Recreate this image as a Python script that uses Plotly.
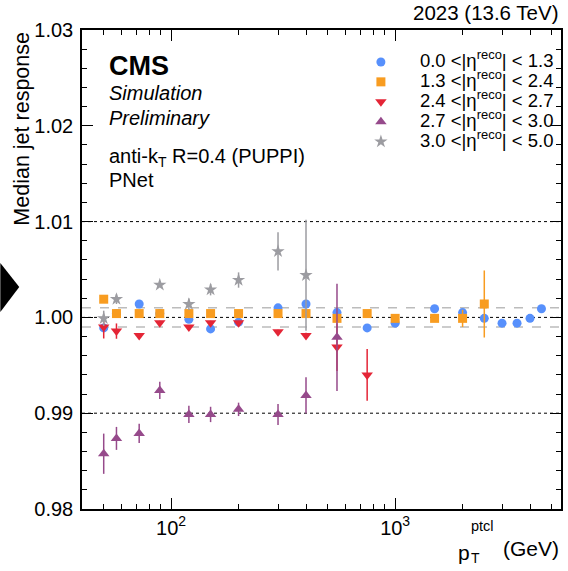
import plotly.graph_objects as go

# ---------------- data ----------------
labels = ["0.0 &lt;|η<sup>reco</sup>| &lt; 1.3",
          "1.3 &lt;|η<sup>reco</sup>| &lt; 2.4",
          "2.4 &lt;|η<sup>reco</sup>| &lt; 2.7",
          "2.7 &lt;|η<sup>reco</sup>| &lt; 3.0",
          "3.0 &lt;|η<sup>reco</sup>| &lt; 5.0"]

x_b1 = [50, 57, 72, 89, 120, 150, 200, 300, 400, 550, 750, 1000, 1500, 2000, 2500, 3000, 3500, 4000, 4500]
y_b1 = [0.9989, 1.0004, 1.0014, 1.0004, 0.9998, 0.9988, 0.9995, 1.0010, 1.0014, 1.0005, 0.9989,
        0.9994, 1.0009, 1.0005, 0.9999, 0.9994, 0.9994, 0.9999, 1.0009]
e_b1 = [0.0002] * 19

x_b2 = [50, 57, 72, 89, 120, 150, 200, 300, 400, 550, 750, 1000, 1500, 2000, 2500]
y_b2 = [1.0019, 1.0004, 1.0004, 1.0004, 1.0004, 1.0004, 1.0004, 1.0004, 1.0004, 0.9999, 1.0004,
        0.9999, 0.9999, 0.9999, 1.0014]
e_b2 = [0.0002, 0.0002, 0.0002, 0.0002, 0.0002, 0.0002, 0.0002, 0.0002, 0.0002, 0.0002, 0.0002,
        0.0002, 0.0002, 0.0009, 0.0035]

x_b3 = [50, 57, 72, 89, 120, 150, 200, 300, 400, 550, 750]
y_b3 = [0.9990, 0.99857, 0.9981, 0.99945, 0.9990, 0.99945, 0.99945, 0.9985, 0.9981, 0.9969, 0.9940]
e_b3 = [0.0012, 0.0008, 0.0002, 0.0002, 0.0002, 0.0002, 0.0002, 0.0002, 0.0003, 0.0025, 0.0027]

x_b4 = [50, 57, 72, 89, 120, 150, 200, 300, 400, 550]
y_b4 = [0.98577, 0.98737, 0.98789, 0.99238, 0.98987, 0.98987, 0.9904, 0.98987, 0.99186, 0.99792]
e_b4 = [0.0021, 0.0012, 0.0010, 0.0009, 0.0009, 0.0008, 0.0007, 0.0011, 0.0019, 0.0056]

x_b5 = [50, 57, 89, 120, 150, 200, 300, 400]
y_b5 = [0.9999, 1.0019, 1.0034, 1.00138, 1.0029, 1.0039, 1.0069, 1.0044]
e_b5 = [0.0008, 0.0005, 0.0002, 0.0006, 0.0006, 0.0008, 0.0020, 0.0058]

y_ticks = [0.98, 0.99, 1.00, 1.01, 1.02, 1.03]
x_ticks = [100, 1000]
x_ticktext = ["10<sup>2</sup>", "10<sup>3</sup>"]
x_minor = [40, 50, 60, 70, 80, 90, 200, 300, 400, 500, 600, 700, 800, 900, 2000, 3000, 4000, 5000]
dotted_lines = [0.99, 1.00, 1.01]
band_lines = [0.999, 1.001]

colors = ["#5790fc", "#f89c20", "#e42536", "#964a8b", "#9c9ca1"]
symbols = ["circle", "square", "triangle-down", "triangle-up", "star"]
sizes = [9, 9, 10, 10, 10]

series = [(x_b1, y_b1, e_b1), (x_b2, y_b2, e_b2), (x_b3, y_b3, e_b3),
          (x_b4, y_b4, e_b4), (x_b5, y_b5, e_b5)]

FONT = "Liberation Sans, Arial, Helvetica, sans-serif"

fig = go.Figure()
for i, (xs, ys, es) in enumerate(series):
    fig.add_trace(go.Scatter(
        x=xs, y=ys, mode="markers",
        name='<span style="font-size:18.5px">' + labels[i] + '</span>',
        marker=dict(symbol=symbols[i], size=sizes[i], color=colors[i], line=dict(width=0)),
        error_y=dict(type="data", array=es, visible=True, color=colors[i], thickness=1.5, width=0),
    ))

shapes = []
for v in dotted_lines:
    shapes.append(dict(type="line", xref="paper", yref="y", x0=0, x1=1, y0=v, y1=v,
                       line=dict(color="black", width=1, dash="dot"), layer="below"))
for v in band_lines:
    shapes.append(dict(type="line", xref="paper", yref="y", x0=0, x1=1, y0=v, y1=v,
                       line=dict(color="#bcbcbc", width=1.5, dash="dash"), layer="below"))
# black arrow-like triangle at the left edge of the page
shapes.append(dict(type="path", xref="paper", yref="paper",
                   path="M -0.1705 0.5136 L -0.131 0.4635 L -0.1705 0.4113 Z",
                   fillcolor="black", line=dict(width=0)))

ann = []
def A(text, x, y, size, xanchor="left", yanchor="middle", **kw):
    ann.append(dict(text=text, x=x, y=y, xref="paper", yref="paper", showarrow=False,
                    xanchor=xanchor, yanchor=yanchor, font=dict(size=size, color="black", family=FONT), **kw))

A("<b>CMS</b>", 0.053, 0.925, 27)
A("<i>Simulation</i>", 0.053, 0.868, 20)
A("<i>Preliminary</i>", 0.053, 0.816, 20)
A("anti-k<sub>T</sub> R=0.4 (PUPPI)", 0.053, 0.733, 20)
A("PNet", 0.053, 0.687, 20)
A("2023 (13.6 TeV)", 1.0, 1.0355, 20.5, xanchor="right")
A("Median jet response", -0.126, 1.0, 21.5, xanchor="center", yanchor="top", textangle=-90)
# x title
A("p", 0.7815, -0.090, 21)
A("T", 0.8085, -0.103, 14)
A("ptcl", 0.8085, -0.036, 14.5)
A("(GeV)", 1.0, -0.082, 21, xanchor="right")

fig.update_layout(
    width=568, height=571,
    margin=dict(l=82, r=5, t=30, b=62),
    plot_bgcolor="white", paper_bgcolor="white",
    font=dict(family=FONT, size=20, color="black"),
    showlegend=True,
    legend=dict(x=0.5426, y=0.9645, xanchor="left", yanchor="top", bgcolor="rgba(0,0,0,0)",
                font=dict(size=13, family=FONT), itemwidth=68, tracegroupgap=0),
    shapes=shapes, annotations=ann,
    xaxis=dict(type="log", range=[1.60206, 3.7404], tickmode="array", tickvals=x_ticks,
               ticktext=x_ticktext, ticks="inside", ticklen=11, tickwidth=1.2, tickcolor="black",
               showline=True, linecolor="black", linewidth=1.5, mirror="allticks",
               showgrid=False, zeroline=False, tickfont=dict(size=20),
               minor=dict(tickmode="array", tickvals=x_minor, ticks="inside", ticklen=5,
                          tickwidth=1.2, tickcolor="black", showgrid=False)),
    yaxis=dict(range=[0.98, 1.03], tickmode="array", tickvals=y_ticks, tickformat=".2f",
               ticks="inside", ticklen=11, tickwidth=1.2, tickcolor="black",
               showline=True, linecolor="black", linewidth=1.5, mirror="allticks",
               showgrid=False, zeroline=False, tickfont=dict(size=20), ticklabelstandoff=3,
               minor=dict(dtick=0.002, tick0=0.98, ticks="inside", ticklen=5, tickwidth=1.2,
                          tickcolor="black", showgrid=False)),
)

fig.write_html("out.html")
